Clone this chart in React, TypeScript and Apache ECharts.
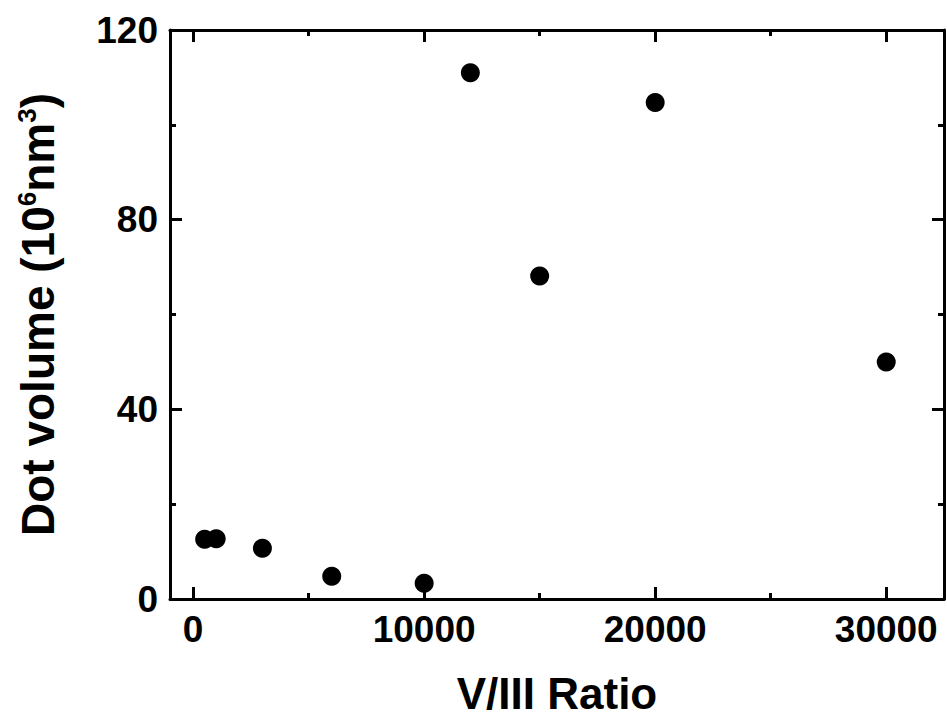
import React, { useEffect, useRef } from "react";
import * as echarts from "echarts";

const ratios = [500, 1000, 3000, 6000, 10000, 12000, 15000, 20000, 30000];
const volumes = [12.6, 12.7, 10.7, 4.8, 3.3, 111.0, 68.1, 104.7, 50.0];
const xMajorTicks = [0, 10000, 20000, 30000];
const xMinorTicks = [5000, 15000, 25000];

const FONT = "'Liberation Sans', Arial, sans-serif";

export default function App() {
  const ref = useRef<HTMLDivElement>(null);
  useEffect(() => {
    if (!ref.current) return;
    const chart = echarts.init(ref.current, null, { renderer: "svg" });
    const lineStyle = { color: "#000", width: 3 };
    const baseX = {
      type: "value" as const,
      min: -1000,
      max: 32500,
      splitLine: { show: false },
    };
    chart.setOption({
      animation: false,
      backgroundColor: "#fff",
      grid: {
        left: 170,
        right: 3,
        top: 30,
        bottom: 119,
        containLabel: false,
        outerBoundsMode: "none",
      },
      xAxis: [
        {
          ...baseX,
          position: "bottom",
          axisLine: { show: true, onZero: false, lineStyle },
          axisTick: { show: true, inside: true, length: 12, customValues: xMajorTicks, lineStyle },
          axisLabel: {
            customValues: xMajorTicks,
            formatter: (v: number) => String(v),
            fontFamily: FONT,
            fontWeight: "bold",
            fontSize: 37,
            color: "#000",
            margin: 12,
          },
          name: "V/III Ratio",
          nameLocation: "middle",
          nameGap: 74,
          nameTextStyle: {
            fontFamily: FONT,
            fontWeight: "bold",
            fontSize: 44,
            lineHeight: 40,
            color: "#000",
          },
        },
        {
          ...baseX,
          position: "bottom",
          axisLine: { show: false, onZero: false },
          axisTick: { show: true, inside: true, length: 6, customValues: xMinorTicks, lineStyle },
          axisLabel: { show: false },
        },
        {
          ...baseX,
          position: "top",
          axisLine: { show: true, onZero: false, lineStyle },
          axisTick: { show: true, inside: true, length: 12, customValues: xMajorTicks, lineStyle },
          axisLabel: { show: false },
        },
        {
          ...baseX,
          position: "top",
          axisLine: { show: false, onZero: false },
          axisTick: { show: true, inside: true, length: 6, customValues: xMinorTicks, lineStyle },
          axisLabel: { show: false },
        },
      ],
      yAxis: [
        {
          type: "value",
          min: 0,
          max: 120,
          interval: 40,
          position: "left",
          splitLine: { show: false },
          axisLine: { show: true, onZero: false, lineStyle },
          axisTick: { show: true, inside: true, length: 12, lineStyle },
          minorTick: { show: true, splitNumber: 2, length: 6, lineStyle },
          axisLabel: {
            fontFamily: FONT,
            fontWeight: "bold",
            fontSize: 37,
            color: "#000",
            margin: 12,
          },
          name: "Dot volume (10{sup|6}nm{sup|3})",
          nameLocation: "middle",
          nameRotate: 90,
          nameGap: 108,
          nameTextStyle: {
            fontFamily: FONT,
            fontWeight: "bold",
            fontSize: 46,
            color: "#000",
            rich: {
              sup: {
                fontFamily: FONT,
                fontWeight: "bold",
                fontSize: 26,
                color: "#000",
                verticalAlign: "bottom",
                padding: [0, 0, 22, 0],
              },
            },
          },
        },
        {
          type: "value",
          min: 0,
          max: 120,
          interval: 40,
          position: "right",
          splitLine: { show: false },
          axisLine: { show: true, onZero: false, lineStyle },
          axisTick: { show: true, inside: true, length: 12, lineStyle },
          minorTick: { show: true, splitNumber: 2, length: 6, lineStyle },
          axisLabel: { show: false },
        },
      ],
      series: [
        {
          type: "scatter",
          xAxisIndex: 0,
          yAxisIndex: 0,
          data: ratios.map((r, i) => [r, volumes[i]]),
          symbol: "circle",
          symbolSize: 19,
          itemStyle: { color: "#000", opacity: 1 },
        },
      ],
    });
    return () => chart.dispose();
  }, []);
  return (
    <div
      ref={ref}
      style={{ position: "fixed", left: 0, top: 0, width: 947, height: 718 }}
    />
  );
}
